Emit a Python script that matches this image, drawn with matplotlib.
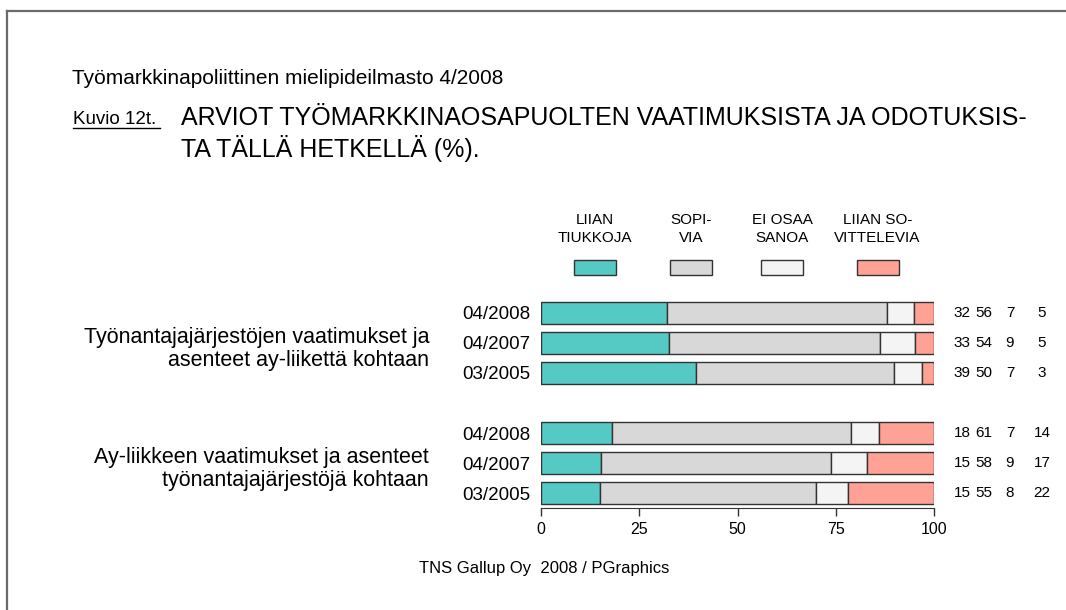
import matplotlib
matplotlib.use("Agg")
import matplotlib.pyplot as plt
from matplotlib.patches import Rectangle
from matplotlib.lines import Line2D
import matplotlib.transforms as mtransforms
import numpy as np

plt.rcParams['font.family'] = ['Liberation Sans', 'DejaVu Sans']

categories = ["LIIAN\nTIUKKOJA", "SOPI-\nVIA", "EI OSAA\nSANOA", "LIIAN SO-\nVITTELEVIA"]
colors = ["#55CAC5", "#D8D8D8", "#F4F4F4", "#FFA195"]
row_labels = ["04/2008", "04/2007", "03/2005", "04/2008", "04/2007", "03/2005"]
group_labels = ["Työnantajajärjestöjen vaatimukset ja\nasenteet ay-liikettä kohtaan",
                "Ay-liikkeen vaatimukset ja asenteet\ntyönantajajärjestöjä kohtaan"]
liian_tiukkoja = [32, 33, 39, 18, 15, 15]
sopivia = [56, 54, 50, 61, 58, 55]
ei_osaa = [7, 9, 7, 7, 9, 8]
liian_sovittelevia = [5, 5, 3, 14, 17, 22]
xticks = [0, 25, 50, 75, 100]

W, H = 1066, 610
fig = plt.figure(figsize=(W/100, H/100), dpi=100)

def fx(px):
    return px / W

def fy(py):
    return 1 - py / H

# border (top & left visible)
fig.add_artist(Line2D([fx(7), fx(7)], [fy(11), 0], transform=fig.transFigure, color="#6b6b6b", lw=1.6))
fig.add_artist(Line2D([fx(7), 1], [fy(11), fy(11)], transform=fig.transFigure, color="#6b6b6b", lw=1.6))

ax = fig.add_axes([fx(541), fy(508), fx(934) - fx(541), (508 - 298) / H])
ypos = np.array([0, 1, 2, 4, 5, 6])
series = [liian_tiukkoja, sopivia, ei_osaa, liian_sovittelevia]
totals = np.sum(np.array(series, dtype=float), axis=0)
left = np.zeros(len(ypos))
for vals, c in zip(series, colors):
    share = np.array(vals, dtype=float) / totals * 100
    ax.barh(ypos, share, left=left, height=0.76, color=c, edgecolor="#333333", linewidth=1.0)
    left += share

ax.set_xlim(0, 100)
ax.set_ylim(6.5, -0.5)
for s in ["top", "right", "left"]:
    ax.spines[s].set_visible(False)
ax.spines["bottom"].set_color("#333333")
ax.set_xticks(xticks)
ax.set_xticklabels([str(t) for t in xticks], fontsize=11.5)
ax.tick_params(axis="x", length=6, width=1, color="#333333", pad=4)
ax.set_yticks(ypos)
ax.set_yticklabels(row_labels, fontsize=13.5)
ax.tick_params(axis="y", length=0, pad=8)
ax.patch.set_alpha(0)

blend = mtransforms.blended_transform_factory(fig.transFigure, ax.transData)
col_x = [962, 984, 1010, 1042]
for i, y in enumerate(ypos):
    for j, vals in enumerate(series):
        t = fig.text(0, 0, str(vals[i]), transform=blend, fontsize=11, ha="center", va="center")
        t.set_position((fx(col_x[j]), y))

for k, gy in enumerate([1, 5]):
    t = fig.text(0, 0, group_labels[k], transform=blend, fontsize=15.5, ha="right", va="center",
                 multialignment="right", linespacing=1.08)
    t.set_position((fx(429), gy + 0.2))

# header
fig.text(fx(72), fy(84), "Työmarkkinapoliittinen mielipideilmasto 4/2008", fontsize=15, ha="left", va="baseline")
fig.text(fx(73), fy(124), "Kuvio 12t.", fontsize=13.5, ha="left", va="baseline")
fig.add_artist(Line2D([fx(73), fx(160)], [fy(128), fy(128)], transform=fig.transFigure, color="black", lw=1))
fig.text(fx(181), fy(125), "ARVIOT TYÖMARKKINAOSAPUOLTEN VAATIMUKSISTA JA ODOTUKSIS-",
         fontsize=18, ha="left", va="baseline")
fig.text(fx(181), fy(157), "TA TÄLLÄ HETKELLÄ (%).", fontsize=18, ha="left", va="baseline")

# legend
leg_cx = [594.5, 691, 782, 877.5]
for cx, lab, c in zip(leg_cx, categories, colors):
    top, bot = lab.split("\n")
    fig.text(fx(cx), fy(220), top, fontsize=11, ha="center", va="center")
    fig.text(fx(cx), fy(238), bot, fontsize=11, ha="center", va="center")
    fig.add_artist(Rectangle((fx(cx - 21), fy(275)), 42 / W, 15 / H, transform=fig.transFigure,
                             facecolor=c, edgecolor="#333333", lw=1))

fig.text(fx(544), fy(568), "TNS Gallup Oy  2008 / PGraphics", fontsize=12, ha="center", va="center")

fig.savefig("out.png", dpi=100, facecolor="white")
